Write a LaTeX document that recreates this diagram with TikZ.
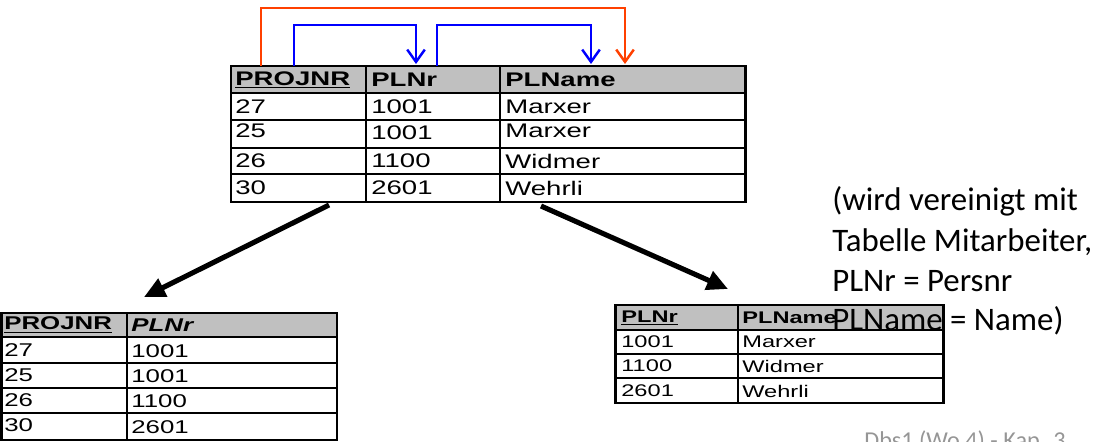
\documentclass[tikz,border=0pt]{standalone}
\usepackage{fontspec}
\setmainfont{Liberation Sans}[FakeStretch=1.4]
\newfontfamily\cali{Carlito}
\usetikzlibrary{arrows.meta}
\definecolor{kopfgrau}{RGB}{192,192,192}
\definecolor{fkrot}{RGB}{255,64,0}
\definecolor{fkblau}{RGB}{0,0,255}
\definecolor{fussgrau}{RGB}{150,150,150}
\tikzset{
 zelle/.style={anchor=west,inner sep=0pt},
 rahmen/.style={line width=1.7pt},
 gitter/.style={line width=1pt},
 bezug/.style={line width=1.4pt,-{Straight Barb[length=7pt,width=10pt]}},
 teilung/.style={line width=2.9pt,-{Triangle[length=12pt,width=11pt]}},
 notiz/.style={anchor=base west,inner sep=0pt,font=\cali\fontsize{18.7}{22}\selectfont}
}

\begin{document}
\begin{tikzpicture}[x=0.02cm,y=-0.02cm]
 \useasboundingbox(0,0) rectangle (1094,442);
 \clip(0,0) rectangle (1094,442);
 % Ausgangstabelle oben
 \fill[kopfgrau](231,66) rectangle (745,93);
 \draw[gitter](231,93)--(745,93)(231,120)--(745,120)(231,148)--(745,148)(231,174)--(745,174);
 \draw[gitter](366,66)--(366,202)(500,66)--(500,202);
 \draw[rahmen](231,66) rectangle (745,202);
 \begin{scope}[every node/.style={zelle,font=\fontsize{11.2}{13}\selectfont}]
 \node (a1) at (235,80) {\bfseries\underline{PROJNR}};
 \node (a2) at (371,80) {\bfseries PLNr};
 \node (a3) at (505,80) {\bfseries PLName};
 \node (b1) at (235,107) {27};
 \node (b2) at (371,107) {1001};
 \node (b3) at (505,107) {Marxer};
 \node (c1) at (235,131) {25};
 \node (c2) at (371,133) {1001};
 \node (c3) at (505,131) {Marxer};
 \node (d1) at (235,161) {26};
 \node (d2) at (371,161) {1100};
 \node (d3) at (505,161) {Widmer};
 \node (e1) at (235,188) {30};
 \node (e2) at (371,188) {2601};
 \node (e3) at (505,188) {Wehrli};
 \end{scope}
 % Abhaengigkeiten ueber dem Kopf
 \coordinate (rA) at (261,66);
 \coordinate (rE) at (625,64);
 \coordinate (bA) at (294,66);
 \coordinate (bE) at (416,64);
 \coordinate (cA) at (437,66);
 \coordinate (cE) at (591,64);
 \draw[bezug,fkrot](rA)--++(0,-58)-|(rE);
 \draw[bezug,fkblau](bA)--++(0,-41)-|(bE);
 \draw[bezug,fkblau](cA)--++(0,-41)-|(cE);
 % Zerlegung
 \coordinate (lA) at (329,205);
 \coordinate (lE) at (144,297);
 \coordinate (mA) at (541,206);
 \coordinate (mE) at (728,289);
 \draw[teilung](lA)--(lE);
 \draw[teilung](mA)--(mE);
 % Tabelle unten links
 \fill[kopfgrau](1.5,313) rectangle (337,337);
 \draw[gitter](1.5,337)--(337,337)(1.5,363)--(337,363)(1.5,388)--(337,388)(1.5,413)--(337,413);
 \draw[gitter](127,313)--(127,440);
 \draw[rahmen](1.5,313) rectangle (337,440);
 \begin{scope}[every node/.style={zelle,font=\fontsize{10.5}{12}\selectfont}]
 \node (f1) at (4,325) {\bfseries\underline{PROJNR}};
 \node (f2) at (131,325) {\bfseries\itshape PLNr};
 \node (g1) at (4,350) {27};
 \node (g2) at (131,351) {1001};
 \node (h1) at (4,375) {25};
 \node (h2) at (131,376) {1001};
 \node (i1) at (4,400) {26};
 \node (i2) at (131,401) {1100};
 \node (j1) at (4,425) {30};
 \node (j2) at (131,427) {2601};
 \end{scope}
 % Tabelle unten rechts
 \fill[kopfgrau](615,305) rectangle (943,330);
 \draw[gitter](615,330)--(943,330)(615,354)--(943,354)(615,378)--(943,378);
 \draw[gitter](738,305)--(738,403);
 \draw[rahmen](615,305) rectangle (943,403);
 \begin{scope}[every node/.style={zelle,font=\fontsize{9.6}{11}\selectfont}]
 \node (k1) at (621,318) {\bfseries\underline{PLNr}};
 \node (k2) at (742,318) {\bfseries PLName};
 \node (l1) at (621,342) {1001};
 \node (l2) at (742,342) {Marxer};
 \node (m1) at (621,366) {1100};
 \node (m2) at (742,366) {Widmer};
 \node (n1) at (621,391) {2601};
 \node (n2) at (742,391) {Wehrli};
 \end{scope}
 % Bemerkung rechts
 \node[notiz] (z1) at (832,211) {(wird vereinigt mit};
 \node[notiz] (z2) at (832,251) {Tabelle Mitarbeiter,};
 \node[notiz] (z3) at (832,291) {PLNr = Persnr};
 \node[notiz] (z4) at (832,330) {PLName = Name)};
 \node[notiz,font=\cali\fontsize{13.8}{16}\selectfont,text=fussgrau] (fuss) at (864,448) {Dbs1 (Wo 4) - Kap. 3};
\end{tikzpicture}
\end{document}
